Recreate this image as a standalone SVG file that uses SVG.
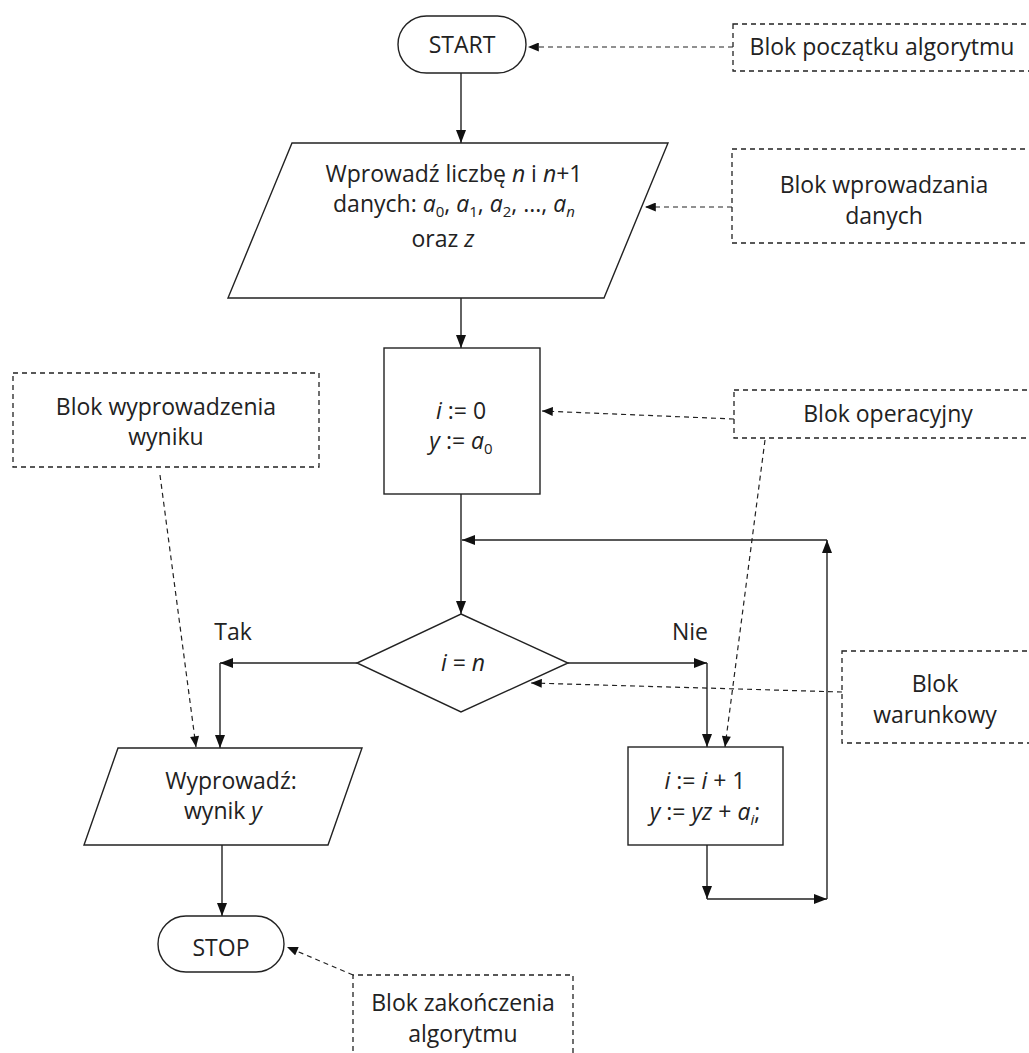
<svg xmlns="http://www.w3.org/2000/svg" width="1029" height="1053" viewBox="0 0 1029 1053">
<style>
text{font-family:"Open Sans","Noto Sans","Liberation Sans",sans-serif;font-size:23px;fill:#222}
.i{font-style:italic}
.sub{font-size:15px}
.shape{fill:#fff;stroke:#222;stroke-width:1.4}
.note{fill:none;stroke:#222;stroke-width:1.3;stroke-dasharray:5,4}
.conn{fill:none;stroke:#222;stroke-width:1.4}
.dconn{fill:none;stroke:#222;stroke-width:1.2;stroke-dasharray:5,4}
</style>
<defs>
<marker id="ah" viewBox="0 0 13 10" refX="13" refY="5" markerWidth="13" markerHeight="10" markerUnits="userSpaceOnUse" orient="auto">
<path d="M0,0 L13,5 L0,10 Z" fill="#111"/>
</marker>
<marker id="dah" viewBox="0 0 12 10" refX="12" refY="5" markerWidth="12" markerHeight="9" markerUnits="userSpaceOnUse" orient="auto">
<path d="M0,0 L12,5 L0,10 Z" fill="#111"/>
</marker>
</defs>

<g id="connectors">
<line class="conn" x1="461" y1="73" x2="461" y2="143" marker-end="url(#ah)"/>
<line class="conn" x1="461" y1="298" x2="461" y2="348" marker-end="url(#ah)"/>
<line class="conn" x1="461" y1="494" x2="461" y2="614" marker-end="url(#ah)"/>
<line class="conn" x1="827" y1="540" x2="462" y2="540" marker-end="url(#ah)"/>
<line class="conn" x1="357" y1="663" x2="220" y2="663" marker-end="url(#ah)"/>
<line class="conn" x1="220" y1="663" x2="220" y2="748" marker-end="url(#ah)"/>
<line class="conn" x1="568" y1="663" x2="707" y2="663" marker-end="url(#ah)"/>
<line class="conn" x1="707" y1="663" x2="707" y2="747" marker-end="url(#ah)"/>
<line class="conn" x1="707" y1="845" x2="707" y2="899" marker-end="url(#ah)"/>
<line class="conn" x1="707" y1="899" x2="827" y2="899" marker-end="url(#ah)"/>
<line class="conn" x1="827" y1="899" x2="827" y2="540" marker-end="url(#ah)"/>
<line class="conn" x1="222" y1="845" x2="222" y2="916" marker-end="url(#ah)"/>
<line class="dconn" x1="733" y1="47" x2="528" y2="47" marker-end="url(#dah)"/>
<line class="dconn" x1="732" y1="207" x2="645" y2="207" marker-end="url(#dah)"/>
<line class="dconn" x1="734" y1="419" x2="542" y2="411" marker-end="url(#dah)"/>
<line class="dconn" x1="765" y1="440" x2="725" y2="747" marker-end="url(#dah)"/>
<line class="dconn" x1="842" y1="692" x2="531" y2="683" marker-end="url(#dah)"/>
<line class="dconn" x1="160" y1="475" x2="196" y2="747" marker-end="url(#dah)"/>
<line class="dconn" x1="353" y1="975" x2="287" y2="947" marker-end="url(#dah)"/>
</g>

<g id="start">
<rect class="shape" x="398" y="16" width="128" height="57" rx="28.5"/>
<text x="462" y="53" text-anchor="middle">START</text>
</g>

<g id="input">
<polygon class="shape" points="292,143 668,143 604,298 228,298"/>
<text x="454" y="182" text-anchor="middle">Wprowadź liczbę <tspan class="i">n</tspan> i <tspan class="i">n</tspan>+1</text>
<text x="454" y="212" text-anchor="middle">danych: <tspan class="i">a</tspan><tspan class="sub" dy="5">0</tspan><tspan dy="-5">, </tspan><tspan class="i">a</tspan><tspan class="sub" dy="5">1</tspan><tspan dy="-5">, </tspan><tspan class="i">a</tspan><tspan class="sub" dy="5">2</tspan><tspan dy="-5">, ..., </tspan><tspan class="i">a</tspan><tspan class="sub i" dy="5">n</tspan></text>
<text x="443" y="247" text-anchor="middle">oraz <tspan class="i">z</tspan></text>
</g>

<g id="init">
<rect class="shape" x="384" y="348" width="156" height="146"/>
<text x="461" y="419" text-anchor="middle"><tspan class="i">i</tspan> := 0</text>
<text x="461" y="449" text-anchor="middle"><tspan class="i">y</tspan> := <tspan class="i">a</tspan><tspan class="sub" dy="5">0</tspan></text>
</g>

<g id="decision">
<polygon class="shape" points="461,614 568,663 461,712 357,663"/>
<text x="463" y="671" text-anchor="middle"><tspan class="i">i</tspan> = <tspan class="i">n</tspan></text>
</g>

<g id="step">
<rect class="shape" x="628" y="747" width="155" height="98"/>
<text x="705" y="789" text-anchor="middle"><tspan class="i">i</tspan> := <tspan class="i">i</tspan> + 1</text>
<text x="705" y="820" text-anchor="middle"><tspan class="i">y</tspan> := <tspan class="i">yz</tspan> + <tspan class="i">a</tspan><tspan class="sub i" dy="5">i</tspan><tspan dy="-5">;</tspan></text>
</g>

<g id="output">
<polygon class="shape" points="118,748 362,748 328,845 84,845"/>
<text x="231" y="789" text-anchor="middle">Wyprowadź:</text>
<text x="223" y="819" text-anchor="middle">wynik <tspan class="i">y</tspan></text>
</g>

<g id="stop">
<rect class="shape" x="158" y="916" width="126" height="56" rx="28"/>
<text x="221" y="956" text-anchor="middle">STOP</text>
</g>

<g id="labels">
<text x="233" y="640" text-anchor="middle">Tak</text>
<text x="690" y="640" text-anchor="middle">Nie</text>
</g>

<g id="note-start">
<rect class="note" x="733" y="24" width="320" height="47"/>
<text x="882" y="55" text-anchor="middle">Blok początku algorytmu</text>
</g>
<g id="note-input">
<rect class="note" x="732" y="149" width="320" height="94"/>
<text x="884" y="193" text-anchor="middle">Blok wprowadzania</text>
<text x="884" y="224" text-anchor="middle">danych</text>
</g>
<g id="note-op">
<rect class="note" x="734" y="390" width="320" height="48"/>
<text x="888" y="422" text-anchor="middle">Blok operacyjny</text>
</g>
<g id="note-cond">
<rect class="note" x="842" y="651" width="220" height="92"/>
<text x="935" y="692" text-anchor="middle">Blok</text>
<text x="935" y="723" text-anchor="middle">warunkowy</text>
</g>
<g id="note-output">
<rect class="note" x="13" y="373" width="306" height="94"/>
<text x="166" y="415" text-anchor="middle">Blok wyprowadzenia</text>
<text x="166" y="445" text-anchor="middle">wyniku</text>
</g>
<g id="note-stop">
<path class="note" d="M353,1060 V975 H573 V1060"/>
<text x="463" y="1011" text-anchor="middle">Blok zakończenia</text>
<text x="463" y="1042" text-anchor="middle">algorytmu</text>
</g>
</svg>
